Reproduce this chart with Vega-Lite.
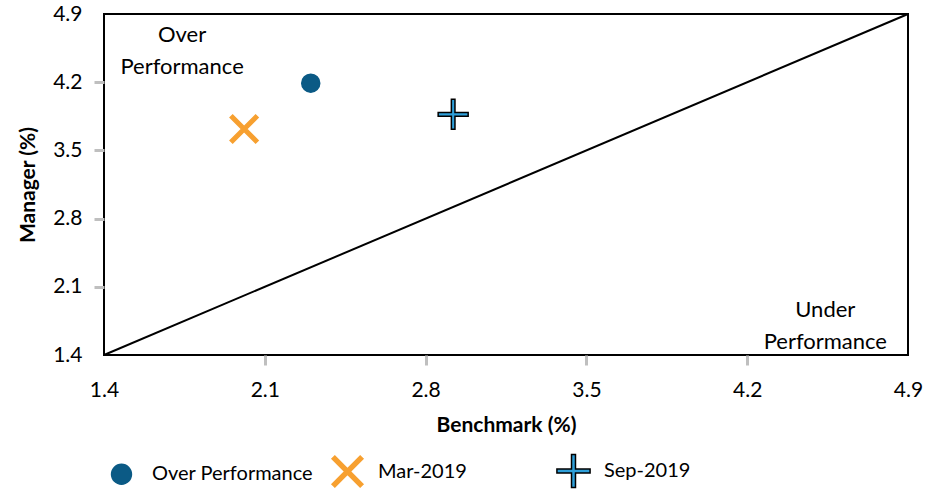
{
  "$schema": "https://vega.github.io/schema/vega-lite/v6.json",
  "width": 804,
  "height": 341,
  "autosize": {"type": "none"},
  "padding": {"left": 104, "top": 14, "right": 32, "bottom": 135},
  "background": "white",
  "config": {
    "font": "Lato",
    "view": {"stroke": "black", "strokeWidth": 2},
    "axis": {
      "domain": false,
      "grid": false,
      "tickColor": "#BFBFBF",
      "tickWidth": 3,
      "tickSize": 10,
      "labelFont": "Lato",
      "labelFontSize": 21,
      "labelColor": "black",
      "labelFlush": false,
      "titleFont": "Lato",
      "titleFontSize": 21,
      "titleFontWeight": "bold",
      "titleColor": "black"
    },
    "legend": {"symbolOpacity": 1}
  },
  "encoding": {
    "x": {
      "field": "benchmark",
      "type": "quantitative",
      "scale": {"domain": [1.4, 4.9], "nice": false, "zero": false},
      "axis": {
        "title": "Benchmark (%)",
        "values": [1.4, 2.1, 2.8, 3.5, 4.2, 4.9],
        "format": ".1f",
        "labelPadding": 14,
        "titlePadding": 14,
        "tickOpacity": {"condition": {"test": "datum.value < 1.5 || datum.value > 4.8", "value": 0}, "value": 1}
      }
    },
    "y": {
      "field": "manager",
      "type": "quantitative",
      "scale": {"domain": [1.4, 4.9], "nice": false, "zero": false},
      "axis": {
        "title": "Manager (%)",
        "values": [1.4, 2.1, 2.8, 3.5, 4.2, 4.9],
        "format": ".1f",
        "labelPadding": 12,
        "titlePadding": 14,
        "tickOpacity": {"condition": {"test": "datum.value < 1.5 || datum.value > 4.8", "value": 0}, "value": 1}
      }
    }
  },
  "layer": [
    {
      "data": {"values": [{"benchmark": 1.4, "manager": 1.4}, {"benchmark": 4.9, "manager": 4.9}]},
      "mark": {"type": "line", "color": "black", "strokeWidth": 2}
    },
    {
      "data": {"values": [
        {"label": "Over\nPerformance", "benchmark": 1.74, "manager": 4.684},
        {"label": "Under\nPerformance", "benchmark": 4.54, "manager": 1.862}
      ]},
      "mark": {"type": "text", "lineBreak": "\n", "fontSize": 22, "lineHeight": 32, "align": "center", "baseline": "middle", "color": "black"},
      "encoding": {"text": {"field": "label"}}
    },
    {
      "data": {"values": [
        {"series": "Over Performance", "benchmark": 2.30, "manager": 4.19},
        {"series": "Mar-2019", "benchmark": 2.01, "manager": 3.72},
        {"series": "Sep-2019", "benchmark": 2.92, "manager": 3.87}
      ]},
      "mark": {"type": "point", "size": 900, "opacity": 1, "strokeWidth": 1.5},
      "encoding": {
        "shape": {
          "field": "series",
          "type": "nominal",
          "scale": {
            "domain": ["Over Performance", "Mar-2019", "Sep-2019"],
            "range": [
              "M0.6,0 A0.6,0.6 0 1,1 -0.6,0 A0.6,0.6 0 1,1 0.6,0 Z",
              "M-0.764,0.933 L0,0.170 L0.764,0.933 L0.933,0.764 L0.170,0 L0.933,-0.764 L0.764,-0.933 L0,-0.170 L-0.764,-0.933 L-0.933,-0.764 L-0.170,0 L-0.933,0.764 Z",
              "M-0.12,-1 L0.12,-1 L0.12,-0.12 L1,-0.12 L1,0.12 L0.12,0.12 L0.12,1 L-0.12,1 L-0.12,0.12 L-1,0.12 L-1,-0.12 L-0.12,-0.12 Z"
            ]
          },
          "legend": {
            "title": null,
            "orient": "none",
            "legendX": 0,
            "legendY": 439,
            "direction": "horizontal",
            "columns": 3,
            "gridAlign": "all",
            "columnPadding": 13,
            "symbolSize": 1100,
            "labelFontSize": 20,
            "labelFont": "Lato",
            "labelColor": "black",
            "labelOffset": 13,
            "labelLimit": 400
          }
        },
        "fill": {
          "field": "series",
          "type": "nominal",
          "scale": {"domain": ["Over Performance", "Mar-2019", "Sep-2019"], "range": ["#0B5A85", "#F7A030", "#2E9FD9"]}
        },
        "stroke": {
          "field": "series",
          "type": "nominal",
          "scale": {"domain": ["Over Performance", "Mar-2019", "Sep-2019"], "range": ["#0B5A85", "#F7A030", "#000000"]}
        }
      }
    }
  ]
}
